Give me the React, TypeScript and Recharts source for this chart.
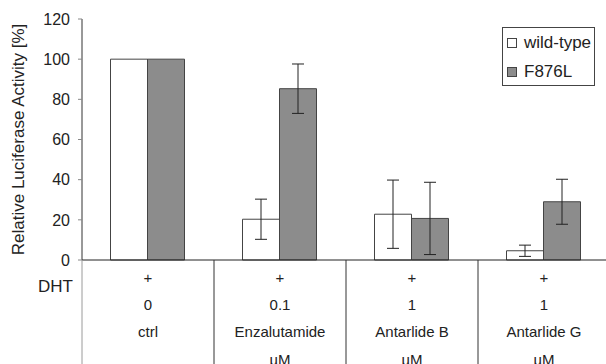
import React from "react";
import { BarChart, Bar, XAxis, YAxis, ErrorBar } from "recharts";

const categories = ["ctrl", "Enzalutamide", "Antarlide B", "Antarlide G"];
const dhtRow = ["+", "+", "+", "+"];
const concRow = ["0", "0.1", "1", "1"];
const unitRow = ["", "µM", "µM", "µM"];
const wildType = [100, 20.3, 22.8, 4.6];
const wildTypeErr = [0, 10, 17, 2.8];
const f876l = [100, 85.3, 20.7, 29];
const f876lErr = [0, 12.3, 18, 11.2];
const yTicks = [0, 20, 40, 60, 80, 100, 120];

const FONT = "'Liberation Sans', Arial, sans-serif";

const data = categories.map((c, i) => ({
  name: c,
  dht: dhtRow[i],
  conc: concRow[i],
  unit: unitRow[i],
  wt: wildType[i],
  wtErr: wildTypeErr[i],
  mut: f876l[i],
  mutErr: f876lErr[i],
}));

// eslint-disable-next-line @typescript-eslint/no-explicit-any
const TableTick = ({ x, y, payload, index }: any) => {
  const d = data[index];
  const left = x - (payload.offset ?? 0);
  return (
    <g fontFamily={FONT} fontSize={15} fill="#222">
      <line x1={left} y1={y} x2={left} y2={y + 110} stroke={index === 0 ? "#9a9a9a" : "#333"} strokeWidth={1} />
      {index === 0 && (
        <text x={left - 9} y={y + 32} textAnchor="end" fontSize={17} fill="#222">DHT</text>
      )}
      <text x={x} y={y + 23} textAnchor="middle">{d.dht}</text>
      <text x={x} y={y + 50} textAnchor="middle">{d.conc}</text>
      <text x={x} y={y + 77} textAnchor="middle">{d.name}</text>
      <text x={x} y={y + 105} textAnchor="middle">{d.unit}</text>
    </g>
  );
};

// eslint-disable-next-line @typescript-eslint/no-explicit-any
const YLabel = ({ viewBox }: any) => {
  const cx = viewBox.x + 24;
  const cy = viewBox.y + viewBox.height / 2;
  return (
    <text x={cx} y={cy} transform={`rotate(-90 ${cx} ${cy})`} textAnchor="middle"
      fontFamily={FONT} fontSize={17} fill="#222">
      Relative Luciferase Activity [%]
    </text>
  );
};

const LegendBox = () => (
  <div style={{
    position: "absolute", left: 502, top: 27, width: 91, height: 57,
    border: "1px solid #444", background: "#fff", fontFamily: FONT, fontSize: 17, color: "#222",
  }}>
    {[{ label: "wild-type", fill: "#fff" }, { label: "F876L", fill: "#8c8c8c" }].map((e, i) => (
      <div key={i} style={{ position: "absolute", left: 4, top: 5 + i * 29, display: "flex", alignItems: "center", height: 20 }}>
        <span style={{ width: 8, height: 8, border: "1px solid #444", background: e.fill, marginRight: 7 }} />
        <span>{e.label}</span>
      </div>
    ))}
  </div>
);

export default function App() {
  return (
    <div style={{ position: "absolute", left: 0, top: 0, width: 606, height: 364, overflow: "hidden", background: "#fff" }}>
      <BarChart width={610} height={364} data={data}
        margin={{ top: 19, right: 0, left: 0, bottom: 0 }}
        barCategoryGap="21.6%" barGap={0}>
        <XAxis dataKey="name" height={104} tickSize={0} tickMargin={0} tickLine={false}
          axisLine={{ stroke: "#222" }} tick={<TableTick />} interval={0} />
        <YAxis domain={[0, 120]} ticks={yTicks} width={82} tickSize={4} tickMargin={8}
          axisLine={{ stroke: "#333" }} tickLine={{ stroke: "#888" }}
          tick={{ fontFamily: FONT, fontSize: 16, fill: "#222" }}
          label={<YLabel />} />
        <Bar dataKey="wt" fill="#fff" stroke="#444" strokeWidth={1} isAnimationActive={false}>
          <ErrorBar dataKey="wtErr" width={6} stroke="#222" strokeWidth={1} isAnimationActive={false} />
        </Bar>
        <Bar dataKey="mut" fill="#8c8c8c" stroke="#444" strokeWidth={1} isAnimationActive={false}>
          <ErrorBar dataKey="mutErr" width={6} stroke="#222" strokeWidth={1} isAnimationActive={false} />
        </Bar>
      </BarChart>
      <LegendBox />
    </div>
  );
}
